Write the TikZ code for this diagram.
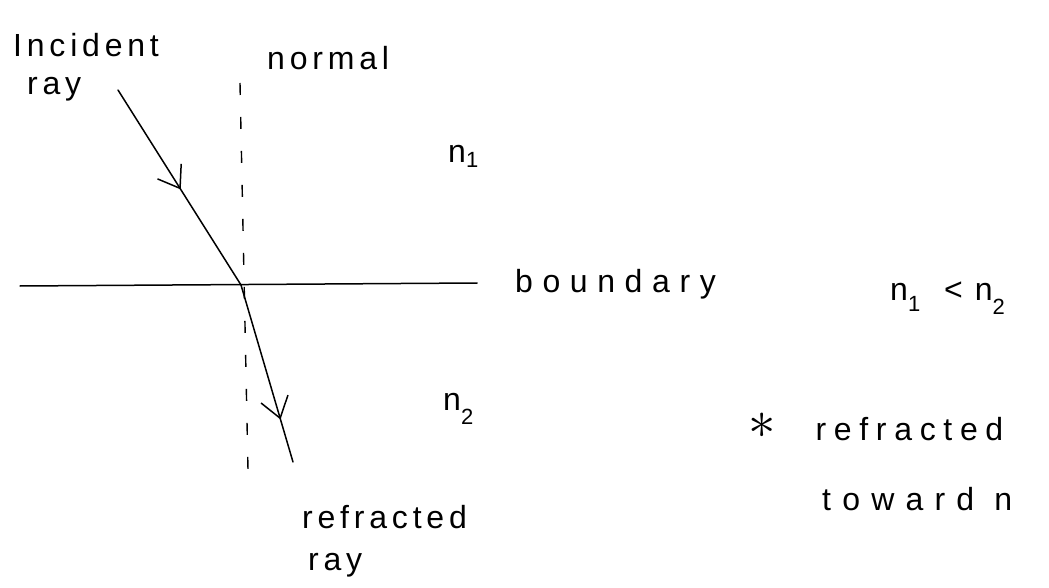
\documentclass[tikz,border=0pt]{standalone}
\usepackage{fontspec}
\usepackage{graphicx}
\setmainfont{Liberation Sans}[LetterSpace=15]
\usetikzlibrary{decorations.markings,arrows.meta}
\newcommand\idx[2][-0.35em]{\raisebox{#1}{\fontsize{22}{22}\selectfont #2}}
\begin{document}
\begin{tikzpicture}[x=1pt,y=-1pt,
  lbl/.style={inner sep=0pt, anchor=base west, font=\fontsize{32}{36}\selectfont},
  stroke/.style={line width=1.5pt, line cap=round},
  normalline/.style={line width=1.4pt, dash pattern=on 12pt off 22pt},
  midarrow/.style={postaction={decorate}, decoration={markings,
      mark=at position #1 with {\arrow{Straight Barb[length=20pt,width=28pt,line width=1.5pt]}}}}]
\useasboundingbox (0,0) rectangle (1049,588);
% geometry
\coordinate (inc) at (118,90);
\coordinate (O) at (241,285);
\coordinate (ref) at (293,462);
\coordinate (bl) at (20,286);
\coordinate (br) at (477,283);
\coordinate (ntop) at (240,83);
\coordinate (nbot) at (248,470);
% lines
\draw[stroke] (bl) -- (br);
\draw[normalline] (ntop) -- (nbot);
\draw[stroke, midarrow=0.51] (inc) -- (O);
\draw[stroke, midarrow=0.76] (O) -- (ref);
% labels
\node[lbl] (tinc) at (13,57) {Incident};
\node[lbl] (tray) at (27,95) {ray};
\node[lbl] (tnorm) at (267,70) {normal};
\node[lbl] (tn1) at (448,163) {n\idx[-0.15em]{1}};
\node[lbl] (tbound) at (515,292) {\addfontfeature{LetterSpace=30}boundary};
\node[lbl] (tineq) at (890,300) {n\idx{1}\hspace{24pt}<\hspace{12pt}n\idx[-0.45em]{2}};
\node[lbl] (tn2) at (443,410) {n\idx[-0.45em]{2}};
\node[lbl] (tstar) at (748,440) {\raisebox{0.05em}{\scalebox{2.2}{$\ast$}}\hspace{40pt}\addfontfeature{LetterSpace=24}refracted};
\node[lbl] (ttoward) at (822,510) {\addfontfeature{LetterSpace=35}toward n};
\node[lbl] (tref) at (302,528) {refracted};
\node[lbl] (tray2) at (308,570) {ray};
\end{tikzpicture}
\end{document}
